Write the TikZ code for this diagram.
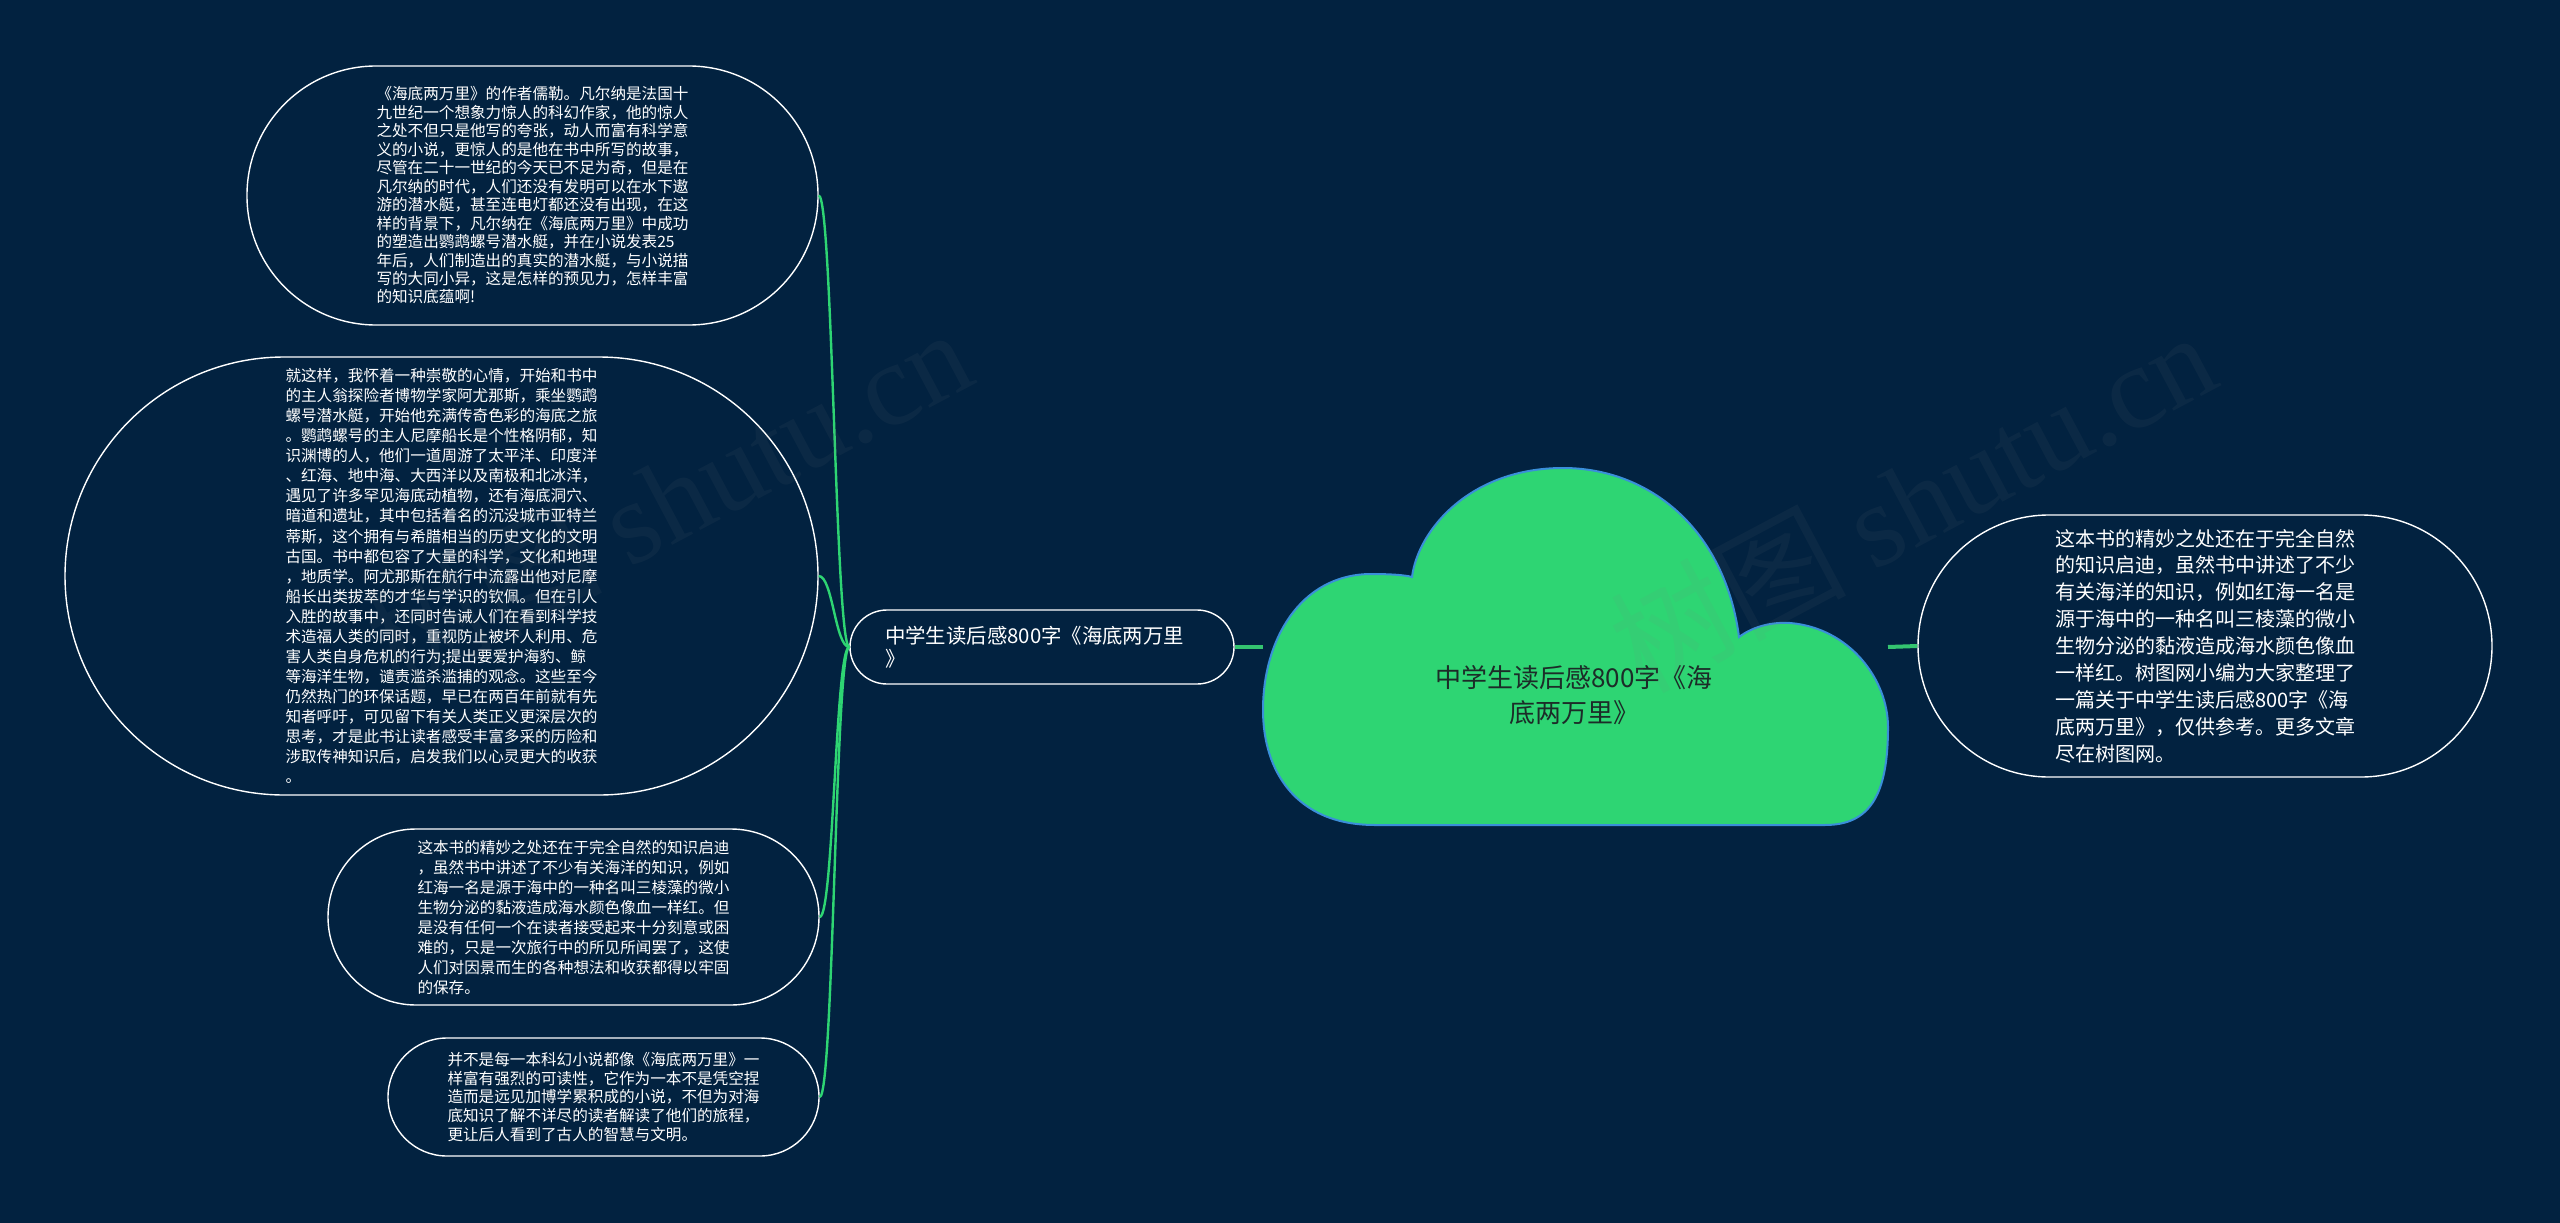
\documentclass[tikz,border=0pt]{standalone}
\usepackage{fontspec}
\setmainfont{Noto Sans CJK SC}
\newfontfamily\wmlatin{Liberation Serif}
\definecolor{bgc}{RGB}{2,34,64}
\definecolor{lgreen}{RGB}{46,213,115}
\definecolor{tgreen}{RGB}{52,196,112}
\definecolor{cloudfill}{RGB}{46,213,115}
\definecolor{cloudline}{RGB}{58,143,217}
\definecolor{cloudtext}{RGB}{28,44,40}
\tikzset{
  box/.style={draw=white, line width=1.4pt, fill=bgc, align=left, text=white, inner sep=0pt},
  branch/.style={draw=lgreen, line width=2.4pt},
  trunk/.style={draw=tgreen, line width=4pt},
  wm/.style={text=gray, text opacity=0.08, font=\fontsize{118}{118}\selectfont, inner sep=0pt},
}
\begin{document}
\begin{tikzpicture}[x=1pt,y=-1pt]
\useasboundingbox (0,0) rectangle (2560,1223);
\fill[bgc] (0,0) rectangle (2560,1223);

% cloud
\draw[fill=cloudfill, draw=cloudline, line width=2pt]
  (1412,577) .. controls (1418,530) and (1470,468) .. (1563,468)
  .. controls (1650,468) and (1725,530) .. (1739,637)
  .. controls (1755,625) and (1775,622) .. (1790,623)
  .. controls (1850,628) and (1888,680) .. (1888,727)
  .. controls (1888,795) and (1870,825) .. (1825,825)
  -- (1375,825)
  .. controls (1295,825) and (1263,770) .. (1263,710)
  .. controls (1263,640) and (1300,575) .. (1370,574)
  .. controls (1390,574) and (1405,575) .. (1412,577) -- cycle;
\node[font=\fontsize{26}{35}\selectfont, text=cloudtext, align=center] (cloud) at (1574,695)
  {中学生读后感800字《海\\底两万里》};
\coordinate (cloudW) at (1263,647);
\coordinate (cloudE) at (1888,647);

% middle node
\node[box, minimum width=384pt, minimum height=74pt, rounded corners=37pt, text width=314pt,
  font=\fontsize{20.4}{23.5}\selectfont] (mid) at (1042,647)
  {中学生读后感800字《海底两万里\\》};

% right box
\node[box, minimum width=574pt, minimum height=262pt, rounded corners=131pt,
  font=\fontsize{20}{26.9}\selectfont] (rb) at (2205,646)
  {这本书的精妙之处还在于完全自然\\
的知识启迪，虽然书中讲述了不少\\
有关海洋的知识，例如红海一名是\\
源于海中的一种名叫三棱藻的微小\\
生物分泌的黏液造成海水颜色像血\\
一样红。树图网小编为大家整理了\\
一篇关于中学生读后感800字《海\\
底两万里》，仅供参考。更多文章\\
尽在树图网。};

% left boxes
\node[box, minimum width=571pt, minimum height=259pt, rounded corners=129pt,
  font=\fontsize{15.6}{18.45}\selectfont] (b1) at (532.5,195.5)
  {《海底两万里》的作者儒勒。凡尔纳是法国十\\
九世纪一个想象力惊人的科幻作家，他的惊人\\
之处不但只是他写的夸张，动人而富有科学意\\
义的小说，更惊人的是他在书中所写的故事，\\
尽管在二十一世纪的今天已不足为奇，但是在\\
凡尔纳的时代，人们还没有发明可以在水下遨\\
游的潜水艇，甚至连电灯都还没有出现，在这\\
样的背景下，凡尔纳在《海底两万里》中成功\\
的塑造出鹦鹉螺号潜水艇，并在小说发表25\\
年后，人们制造出的真实的潜水艇，与小说描\\
写的大同小异，这是怎样的预见力，怎样丰富\\
的知识底蕴啊!};

\node[box, minimum width=753pt, minimum height=438pt, rounded corners=219pt,
  font=\fontsize{15.6}{20.05}\selectfont] (b2) at (441.5,576)
  {就这样，我怀着一种崇敬的心情，开始和书中\\
的主人翁探险者博物学家阿尤那斯，乘坐鹦鹉\\
螺号潜水艇，开始他充满传奇色彩的海底之旅\\
。鹦鹉螺号的主人尼摩船长是个性格阴郁，知\\
识渊博的人，他们一道周游了太平洋、印度洋\\
、红海、地中海、大西洋以及南极和北冰洋，\\
遇见了许多罕见海底动植物，还有海底洞穴、\\
暗道和遗址，其中包括着名的沉没城市亚特兰\\
蒂斯，这个拥有与希腊相当的历史文化的文明\\
古国。书中都包容了大量的科学，文化和地理\\
，地质学。阿尤那斯在航行中流露出他对尼摩\\
船长出类拔萃的才华与学识的钦佩。但在引人\\
入胜的故事中，还同时告诫人们在看到科学技\\
术造福人类的同时，重视防止被坏人利用、危\\
害人类自身危机的行为;提出要爱护海豹、鲸\\
等海洋生物，谴责滥杀滥捕的观念。这些至今\\
仍然热门的环保话题，早已在两百年前就有先\\
知者呼吁，可见留下有关人类正义更深层次的\\
思考，才是此书让读者感受丰富多采的历险和\\
涉取传神知识后，启发我们以心灵更大的收获\\
。};

\node[box, minimum width=491pt, minimum height=176pt, rounded corners=88pt,
  font=\fontsize{15.6}{20}\selectfont] (b3) at (573.5,917)
  {这本书的精妙之处还在于完全自然的知识启迪\\
，虽然书中讲述了不少有关海洋的知识，例如\\
红海一名是源于海中的一种名叫三棱藻的微小\\
生物分泌的黏液造成海水颜色像血一样红。但\\
是没有任何一个在读者接受起来十分刻意或困\\
难的，只是一次旅行中的所见所闻罢了，这使\\
人们对因景而生的各种想法和收获都得以牢固\\
的保存。};

\node[box, minimum width=431pt, minimum height=118pt, rounded corners=59pt,
  font=\fontsize{15.6}{18.8}\selectfont] (b4) at (603.5,1097)
  {并不是每一本科幻小说都像《海底两万里》一\\
样富有强烈的可读性，它作为一本不是凭空捏\\
造而是远见加博学累积成的小说，不但为对海\\
底知识了解不详尽的读者解读了他们的旅程，\\
更让后人看到了古人的智慧与文明。};

% connectors
\draw[trunk] (mid.east) -- (cloudW);
\draw[trunk] (cloudE) -- (rb.west);
\foreach \b in {b1,b2,b3,b4}
  \draw[branch] (mid.west) .. controls +(-14,0) and +(14,0) .. (\b.east);

% watermarks
\node[wm, rotate=28] (wm1) at (1912,500) {树图 {\wmlatin shutu.cn}};
\node[wm, rotate=28] (wm2) at (668,497) {树图 {\wmlatin shutu.cn}};
\end{tikzpicture}
\end{document}
